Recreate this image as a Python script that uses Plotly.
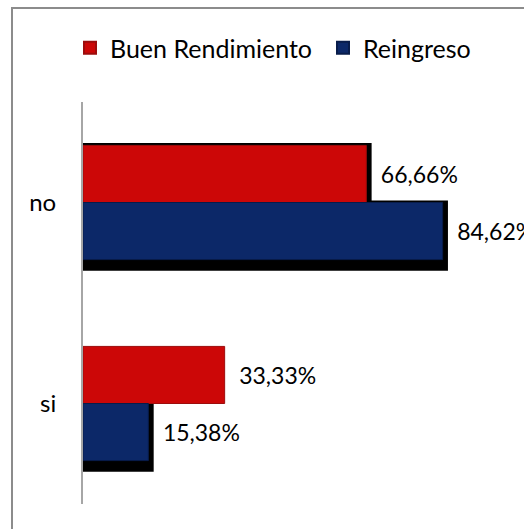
import plotly.graph_objects as go

categories = ["no", "si"]
buen_rendimiento = [66.66, 33.33]
reingreso = [84.62, 15.38]
series_names = ["Buen Rendimiento", "Reingreso"]

FONT = "Lato, Carlito, Calibri, sans-serif"
RED = "#CC0707"
BLUE = "#0C2868"
BW = 0.284
SH_X = 1.25


def fmt(v):
    return ("\u2002" + f"{v:.2f}".replace(".", ",") + "%")


fig = go.Figure()

# shadows
fig.add_trace(go.Bar(
    y=categories, x=[v + SH_X for v in buen_rendimiento], orientation="h",
    base=0, offset=-0.0, width=BW + 0.012,
    marker=dict(color=["black", "rgba(0,0,0,0)"], line=dict(width=0)),
    showlegend=False, hoverinfo="skip"))
fig.add_trace(go.Bar(
    y=categories, x=[v + SH_X for v in reingreso], orientation="h",
    offset=-BW - 0.055, width=BW + 0.065,
    marker=dict(color="black", line=dict(width=0)),
    showlegend=False, hoverinfo="skip"))

fig.add_trace(go.Bar(
    y=categories, x=buen_rendimiento, orientation="h", name=series_names[0],
    offset=0.0, width=BW,
    marker=dict(color=RED, line=dict(color="#9c0c0c", width=1)),
    text=[fmt(v) for v in buen_rendimiento], textposition="outside",
    textfont=dict(family=FONT, size=23, color="black"),
    cliponaxis=False, constraintext="none"))
fig.add_trace(go.Bar(
    y=categories, x=reingreso, orientation="h", name=series_names[1],
    offset=-BW, width=BW,
    marker=dict(color=BLUE, line=dict(color="#081c4a", width=1)),
    text=[fmt(v) for v in reingreso], textposition="outside",
    textfont=dict(family=FONT, size=23, color="black"),
    cliponaxis=False, constraintext="none"))

L, R, T, B = 83, 0, 102, 25
W, H = 524, 529
pw, ph = W - L - R, H - T - B
PX_PER_UNIT = 4.25
XMAX = pw / PX_PER_UNIT


def px_x(x):
    return (x - L) / pw


def px_y(y):
    return (H - B - y) / ph


fig.update_layout(
    width=W, height=H,
    margin=dict(l=L, r=R, t=T, b=B, autoexpand=False),
    barmode="overlay",
    paper_bgcolor="white", plot_bgcolor="white",
    font=dict(family=FONT, size=25, color="black"),
    showlegend=True,
    legend=dict(orientation="h", x=px_x(70), xanchor="left",
                y=px_y(48), yanchor="middle",
                traceorder="normal", entrywidth=208, entrywidthmode="pixels",
                font=dict(family=FONT, size=25, color="black"),
                itemsizing="constant"),
    xaxis=dict(range=[0, XMAX], visible=False, showgrid=False, zeroline=False),
    yaxis=dict(type="category", categoryorder="array", categoryarray=["si", "no"],
               range=[-0.5, 1.5], showline=True, linecolor="#a6a6a6", linewidth=2,
               ticks="", showgrid=False, zeroline=False, ticklabelstandoff=20,
               tickfont=dict(family=FONT, size=24, color="black")),
    shapes=[dict(type="rect", xref="paper", yref="paper",
                 x0=px_x(12), x1=px_x(540), y0=px_y(8), y1=px_y(545),
                 line=dict(color="#8c8c8c", width=2), fillcolor="rgba(0,0,0,0)",
                 layer="below")],
)

fig.write_html("out.html", config={"displayModeBar": False},
               post_script="document.body.style.margin='0';document.body.style.overflow='hidden';")
